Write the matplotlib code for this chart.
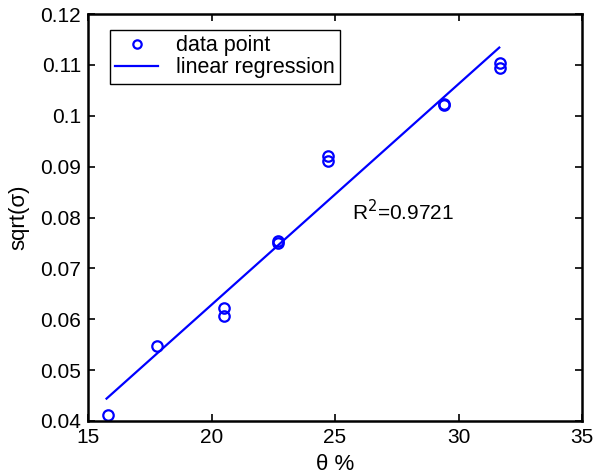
import matplotlib
matplotlib.use("Agg")
import matplotlib.pyplot as plt

plt.rcParams['font.family'] = ['Liberation Sans', 'DejaVu Sans']

theta = [15.8, 17.8, 20.5, 20.5, 22.7, 22.7, 24.7, 24.7, 29.4, 29.4, 31.7, 31.7]
sqrt_sigma = [0.0412, 0.0547, 0.0623, 0.0607, 0.0750, 0.0753, 0.0921, 0.0912, 0.1021, 0.1024, 0.1104, 0.1094]
fit_x = [15.75, 31.65]
fit_y = [0.0444, 0.1134]
r2_text = "R$^2$=0.9721"

fig = plt.figure(figsize=(6, 4.75), dpi=100)
ax = fig.add_axes([0.1467, 0.1137, 0.8233, 0.8568])

ax.plot(theta, sqrt_sigma, 'o', mfc='none', mec='#0000ff', mew=1.6, ms=7.5, label='data point')
ax.plot(fit_x, fit_y, '-', color='#0000ff', lw=1.6, label='linear regression')

ax.set_xlim(15, 35)
ax.set_ylim(0.04, 0.12)
ax.set_xticks([15, 20, 25, 30, 35])
ax.set_yticks([0.04, 0.05, 0.06, 0.07, 0.08, 0.09, 0.10, 0.11, 0.12])
ax.set_yticklabels(['0.04', '0.05', '0.06', '0.07', '0.08', '0.09', '0.1', '0.11', '0.12'])
ax.tick_params(direction='in', top=True, right=True, labelsize=15, width=1.2, length=5, pad=5)
for s in ax.spines.values():
    s.set_linewidth(1.8)

ax.set_xlabel('θ %', fontsize=16, labelpad=5)
ax.set_ylabel('sqrt(σ)', fontsize=16, labelpad=8)

ax.text(25.7, 0.0811, r2_text, fontsize=15, va='center', ha='left')

leg = ax.legend(loc='upper left', bbox_to_anchor=(0.0445, 0.9607), borderaxespad=0, fontsize=15.5,
                frameon=True, fancybox=False, edgecolor='black', framealpha=1, handlelength=2.0,
                borderpad=0.25, labelspacing=0.05, handletextpad=0.8, markerscale=0.8)
leg.get_frame().set_linewidth(1.0)

fig.savefig('out.png', dpi=100)
